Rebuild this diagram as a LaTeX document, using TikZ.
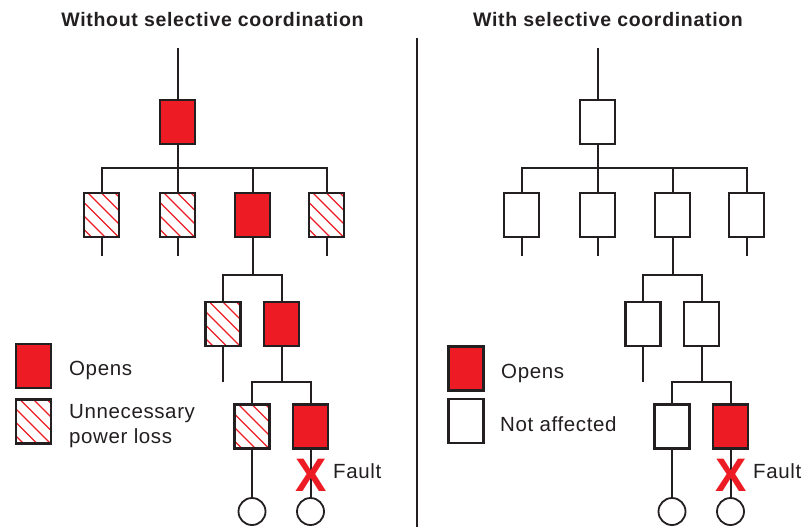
\documentclass[tikz,border=0pt]{standalone}
\usepackage{fontspec}
\setmainfont{Liberation Sans}
\newfontfamily\titlefont{Liberation Sans}[LetterSpace=3.5]
\newfontfamily\bodyfont{Liberation Sans}[LetterSpace=3]
\definecolor{cred}{HTML}{ED1C24}
\definecolor{cdark}{HTML}{231F20}
\tikzset{
  wire/.style={draw=cdark,line width=2pt},
  cbox/.style={draw=cdark,line width=2.2pt,minimum width=35pt,minimum height=44pt,inner sep=0pt,outer sep=0pt},
  redbox/.style={cbox,fill=cred},
  whitebox/.style={cbox,fill=white},
  hatchbox/.style={cbox,fill=white,
    path picture={\foreach \k in {-3,...,2}{\draw[cred,line width=1.4pt]
      ([xshift=\k*13.5pt+4pt]path picture bounding box.north west) ++(-10pt,10pt) -- ++(70pt,-70pt);}}},
  load/.style={circle,draw=cdark,line width=1.8pt,minimum size=27pt,inner sep=0pt,fill=white},
  title/.style={font=\titlefont\bfseries\fontsize{19.5}{23}\selectfont,text=cdark,anchor=base,inner sep=0pt},
  label/.style={font=\bodyfont\fontsize{20.5}{24}\selectfont,text=cdark,anchor=base west,inner sep=0pt},
  faultx/.style={font=\normalfont\bfseries\fontsize{47}{47}\selectfont,text=cred,anchor=base,inner sep=0pt},
}
\newcommand\drawtree[4]{%
\begin{scope}[xshift=#2pt]
  \coordinate (#1in) at (177.5,48);
  \node[#3] (#1top) at (177.5,122) {};
  \coordinate (#1j1) at (177.5,168);
  \node[#4] (#1b1) at (101.5,215) {};
  \node[#4] (#1b2) at (177.5,215) {};
  \node[#3] (#1b3) at (252.5,215) {};
  \node[#4] (#1b4) at (326.5,215) {};
  \coordinate (#1j2) at (252.5,275);
  \node[#4] (#1c1) at (223,324) {};
  \node[#3] (#1c2) at (281.5,324) {};
  \coordinate (#1j3) at (281.5,382);
  \node[#4] (#1d1) at (252,426.5) {};
  \node[redbox] (#1d2) at (310.5,426.5) {};
  \node[load] (#1e1) at (252,511.5) {};
  \node[load] (#1e2) at (310.5,511.5) {};
  \path[wire] (#1in) -- (#1top.north);
  \path[wire] (#1top.south) -- (#1j1);
  \path[wire] (#1b1.north) |- (#1j1);
  \path[wire] (#1b2.north) -- (#1j1);
  \path[wire] (#1b3.north) |- (#1j1);
  \path[wire] (#1b4.north) |- (#1j1);
  \path[wire] (#1b1.south) -- ++(0,19);
  \path[wire] (#1b2.south) -- ++(0,19);
  \path[wire] (#1b4.south) -- ++(0,19);
  \path[wire] (#1b3.south) -- (#1j2);
  \path[wire] (#1c1.north) |- (#1j2);
  \path[wire] (#1c2.north) |- (#1j2);
  \path[wire] (#1c1.south) -- ++(0,36);
  \path[wire] (#1c2.south) -- (#1j3);
  \path[wire] (#1d1.north) |- (#1j3);
  \path[wire] (#1d2.north) |- (#1j3);
  \path[wire] (#1d1.south) -- (#1e1.north);
  \path[wire] (#1d2.south) -- (#1e2.north);
  \node[faultx] (#1x) at (311.5,491) {X};
  \node[label] (#1fault) at (333,478) {Fault};
\end{scope}}
\begin{document}
\begin{tikzpicture}[x=1pt,y=-1pt]
  \useasboundingbox (0,0) rectangle (802,527);
  \fill[white] (0,0) rectangle (802,527);
  \drawtree{L}{0}{redbox}{hatchbox}
  \drawtree{R}{420}{whitebox}{whitebox}
  % titles
  \node[title] (lt) at (212.5,27) {Without selective coordination};
  \node[title] (rt) at (608,27) {With selective coordination};
  % divider
  \coordinate (dtop) at (417,38);
  \coordinate (dbot) at (417,527);
  \path[wire] (dtop) -- (dbot);
  % left legend
  \node[redbox] (lkr) at (33.5,366) {};
  \node[hatchbox] (lkh) at (33.5,421.5) {};
  \node[label] (lko) at (69,375) {Opens};
  \node[label] (lku) at (69,418) {Unnecessary};
  \node[label] (lkp) at (69,443) {power loss};
  % right legend
  \node[redbox] (rkr) at (466,368.5) {};
  \node[whitebox] (rkw) at (466,421) {};
  \node[label] (rko) at (501,378) {Opens};
  \node[label] (rkn) at (500,431) {Not affected};
\end{tikzpicture}
\end{document}
